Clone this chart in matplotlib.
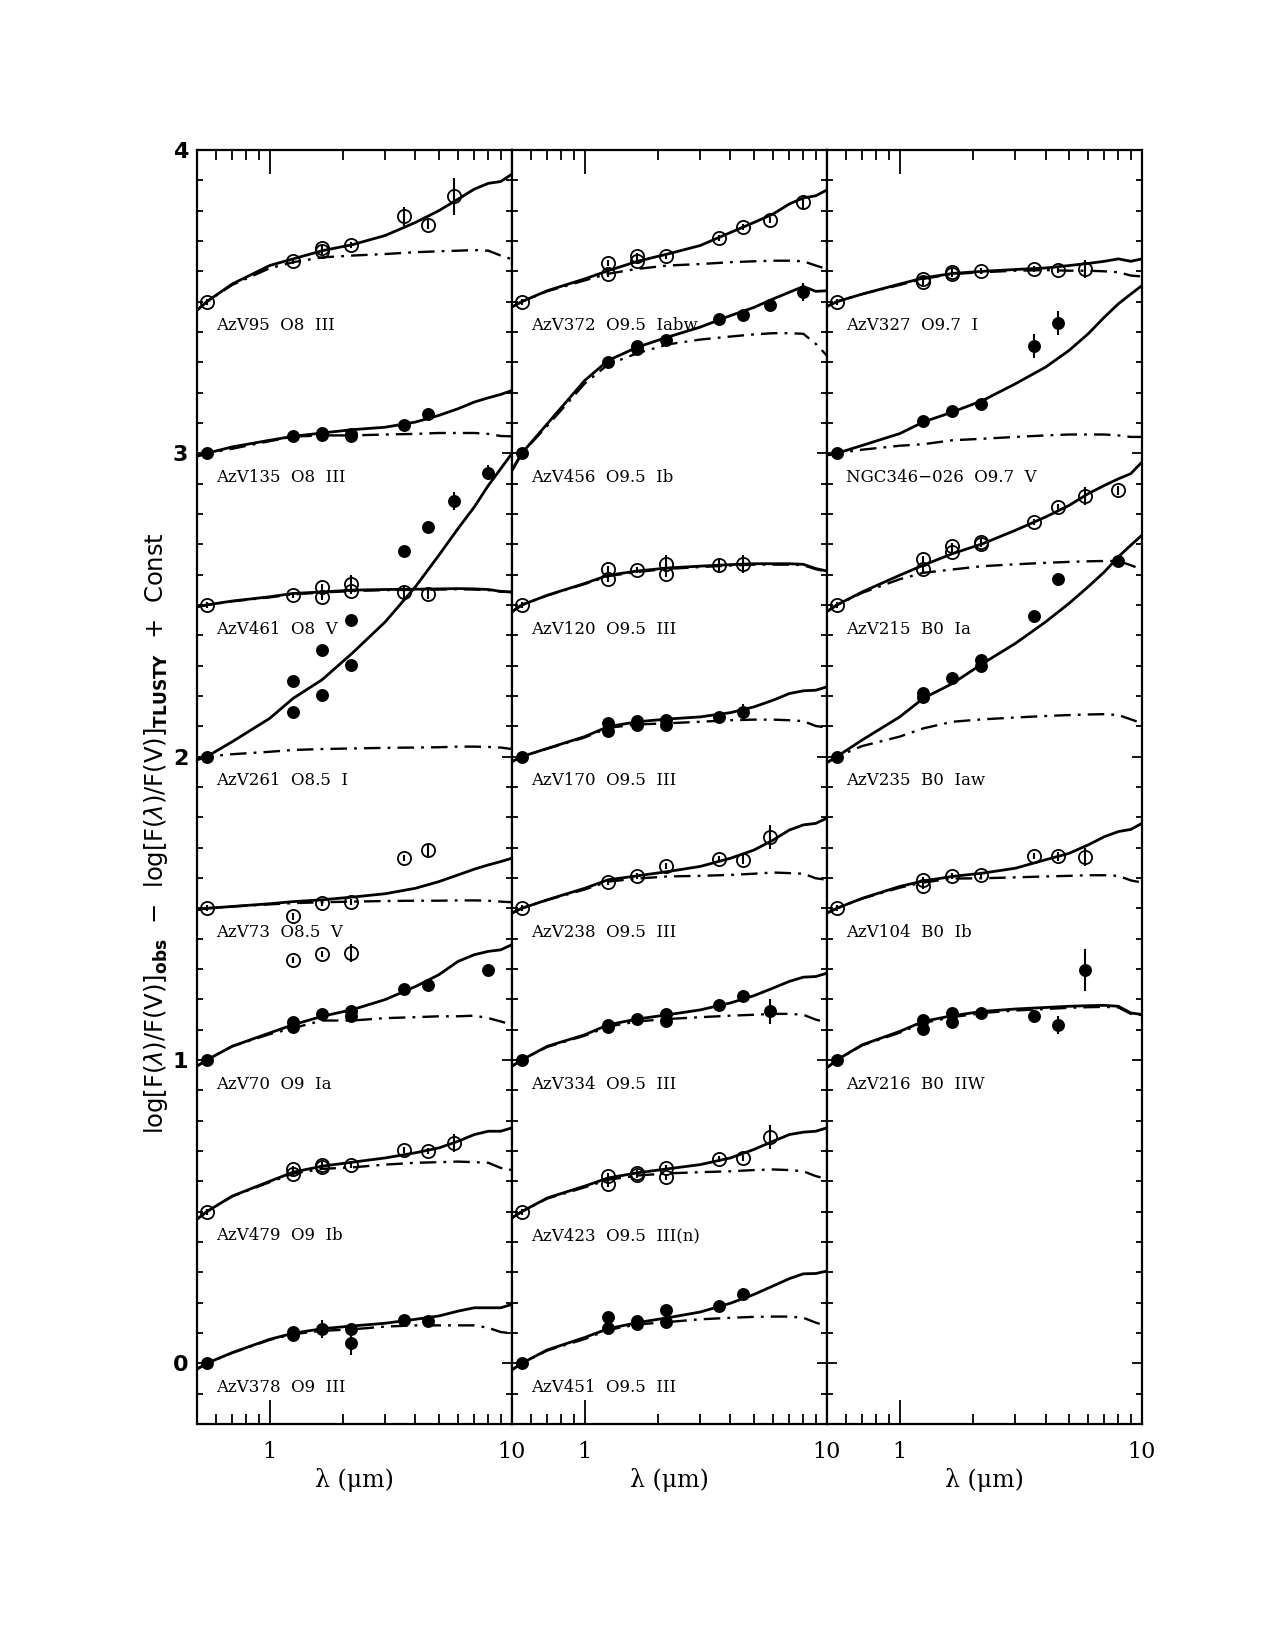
import matplotlib
matplotlib.use("Agg")
import matplotlib.pyplot as plt
import numpy as np
from matplotlib.ticker import LogLocator, FixedLocator, FixedFormatter, MultipleLocator, NullFormatter

# model grid (micron) for the TLUSTY curves
lam_grid = [0.5, 0.55, 0.7, 1.0, 1.25, 1.65, 2.2, 3.0, 4.0, 5.0, 6.0, 7.0, 8.0, 9.0, 10.0]

star_labels = [
    "AzV95  O8  III", "AzV135  O8  III", "AzV461  O8  V", "AzV261  O8.5  I",
    "AzV73  O8.5  V", "AzV70  O9  Ia", "AzV479  O9  Ib", "AzV378  O9  III",
    "AzV372  O9.5  Iabw", "AzV456  O9.5  Ib", "AzV120  O9.5  III", "AzV170  O9.5  III",
    "AzV238  O9.5  III", "AzV334  O9.5  III", "AzV423  O9.5  III(n)", "AzV451  O9.5  III",
    "AzV327  O9.7  I", "NGC346\u2212026  O9.7  V", "AzV215  B0  Ia", "AzV235  B0  Iaw",
    "AzV104  B0  Ib", "AzV216  B0  IIW",
]
panel_of = [0] * 8 + [1] * 8 + [2] * 6
offsets = [3.5, 3.0, 2.5, 2.0, 1.5, 1.0, 0.5, 0.0,
           3.5, 3.0, 2.5, 2.0, 1.5, 1.0, 0.5, 0.0,
           3.5, 3.0, 2.5, 2.0, 1.5, 1.0]
filled = [False, True, False, True, False, True, False, True,
          False, True, False, True, False, True, False, True,
          False, True, False, True, False, True]

# observed photometry: wavelength, value relative to V, error
pt_lam = [
    [0.55, 1.25, 1.65, 1.65, 2.17, 3.6, 4.5, 5.8],
    [0.55, 1.25, 1.65, 1.65, 2.17, 2.17, 3.6, 4.5],
    [0.55, 1.25, 1.65, 1.65, 2.17, 2.17, 3.6, 4.5],
    [0.55, 1.25, 1.25, 1.65, 1.65, 2.17, 2.17, 3.6, 4.5, 5.8, 8.0],
    [0.55, 1.25, 1.25, 1.65, 1.65, 2.17, 2.17, 3.6, 4.5],
    [0.55, 1.25, 1.25, 1.65, 2.17, 2.17, 3.6, 4.5, 8.0],
    [0.55, 1.25, 1.25, 1.65, 1.65, 2.17, 3.6, 4.5, 5.8],
    [0.55, 1.25, 1.25, 1.65, 2.17, 2.17, 3.6, 4.5],
    [0.55, 1.25, 1.25, 1.65, 1.65, 2.17, 3.6, 4.5, 5.8, 8.0],
    [0.55, 1.25, 1.65, 1.65, 2.17, 3.6, 4.5, 5.8, 8.0],
    [0.55, 1.25, 1.25, 1.65, 2.17, 2.17, 3.6, 4.5],
    [0.55, 1.25, 1.25, 1.65, 1.65, 2.17, 2.17, 3.6, 4.5],
    [0.55, 1.25, 1.65, 2.17, 3.6, 4.5, 5.8],
    [0.55, 1.25, 1.25, 1.65, 2.17, 2.17, 3.6, 4.5, 5.8],
    [0.55, 1.25, 1.25, 1.65, 1.65, 2.17, 2.17, 3.6, 4.5, 5.8],
    [0.55, 1.25, 1.25, 1.65, 1.65, 2.17, 2.17, 3.6, 4.5],
    [0.55, 1.25, 1.25, 1.65, 1.65, 2.17, 3.6, 4.5, 5.8],
    [0.55, 1.25, 1.65, 2.17, 3.6, 4.5],
    [0.55, 1.25, 1.25, 1.65, 1.65, 2.17, 2.17, 3.6, 4.5, 5.8, 8.0],
    [0.55, 1.25, 1.25, 1.65, 2.17, 2.17, 3.6, 4.5, 8.0],
    [0.55, 1.25, 1.25, 1.65, 2.17, 3.6, 4.5, 5.8],
    [0.55, 1.25, 1.25, 1.65, 1.65, 2.17, 3.6, 4.5, 5.8],
]
pt_val = [
    [0, 0.133, 0.177, 0.166, 0.188, 0.281, 0.253, 0.347],
    [0, 0.056, 0.067, 0.060, 0.064, 0.056, 0.092, 0.128],
    [0, 0.032, 0.060, 0.027, 0.068, 0.046, 0.043, 0.035],
    [0, 0.249, 0.148, 0.353, 0.202, 0.452, 0.301, 0.677, 0.757, 0.844, 0.936],
    [0, -0.027, -0.170, 0.017, -0.151, 0.022, -0.148, 0.165, 0.192],
    [0, 0.124, 0.109, 0.151, 0.160, 0.146, 0.234, 0.248, 0.297],
    [0, 0.139, 0.124, 0.154, 0.146, 0.153, 0.202, 0.201, 0.227],
    [0, 0.103, 0.092, 0.114, 0.114, 0.066, 0.142, 0.139],
    [0, 0.126, 0.091, 0.152, 0.133, 0.152, 0.209, 0.247, 0.270, 0.327],
    [0, 0.300, 0.355, 0.345, 0.372, 0.443, 0.457, 0.490, 0.531],
    [0, 0.120, 0.087, 0.114, 0.136, 0.103, 0.133, 0.136],
    [0, 0.110, 0.085, 0.117, 0.104, 0.120, 0.104, 0.131, 0.148],
    [0, 0.088, 0.105, 0.138, 0.162, 0.160, 0.236],
    [0, 0.116, 0.109, 0.135, 0.152, 0.130, 0.180, 0.212, 0.160],
    [0, 0.117, 0.092, 0.128, 0.122, 0.144, 0.114, 0.172, 0.177, 0.245],
    [0, 0.153, 0.117, 0.139, 0.129, 0.176, 0.136, 0.189, 0.227],
    [0, 0.075, 0.064, 0.097, 0.091, 0.102, 0.108, 0.104, 0.108],
    [0, 0.106, 0.138, 0.163, 0.353, 0.429],
    [0, 0.153, 0.120, 0.194, 0.175, 0.208, 0.202, 0.274, 0.323, 0.358, 0.378],
    [0, 0.210, 0.197, 0.258, 0.318, 0.298, 0.463, 0.584, 0.645],
    [0, 0.094, 0.072, 0.105, 0.110, 0.171, 0.171, 0.168],
    [0, 0.133, 0.102, 0.155, 0.124, 0.155, 0.144, 0.116, 0.297],
]
pt_err = [
    [0.01, 0.01, 0.01, 0.01, 0.01, 0.03, 0.015, 0.06],
    [0.01, 0.01, 0.01, 0.01, 0.015, 0.01, 0.01, 0.02],
    [0.01, 0.01, 0.01, 0.01, 0.03, 0.01, 0.02, 0.015],
    [0.01, 0.01, 0.01, 0.01, 0.01, 0.01, 0.01, 0.01, 0.02, 0.03, 0.025],
    [0.01, 0.01, 0.01, 0.01, 0.01, 0.01, 0.03, 0.01, 0.02],
    [0.01, 0.01, 0.01, 0.01, 0.01, 0.01, 0.01, 0.02, 0.02],
    [0.01, 0.01, 0.01, 0.01, 0.01, 0.01, 0.01, 0.01, 0.03],
    [0.01, 0.01, 0.01, 0.03, 0.01, 0.04, 0.01, 0.01],
    [0.01, 0.01, 0.01, 0.01, 0.01, 0.01, 0.01, 0.01, 0.01, 0.025],
    [0.01, 0.01, 0.01, 0.01, 0.01, 0.015, 0.01, 0.015, 0.03],
    [0.01, 0.01, 0.01, 0.01, 0.03, 0.01, 0.02, 0.03],
    [0.01, 0.01, 0.01, 0.01, 0.01, 0.01, 0.01, 0.01, 0.025],
    [0.01, 0.01, 0.01, 0.01, 0.01, 0.015, 0.04],
    [0.01, 0.01, 0.01, 0.01, 0.01, 0.01, 0.02, 0.02, 0.04],
    [0.01, 0.01, 0.01, 0.01, 0.01, 0.01, 0.01, 0.01, 0.01, 0.04],
    [0.01, 0.01, 0.01, 0.01, 0.01, 0.01, 0.01, 0.02, 0.02],
    [0.01, 0.01, 0.01, 0.01, 0.01, 0.01, 0.01, 0.01, 0.03],
    [0.01, 0.01, 0.01, 0.01, 0.04, 0.04],
    [0.01, 0.01, 0.01, 0.01, 0.01, 0.01, 0.01, 0.01, 0.01, 0.03, 0.015],
    [0.01, 0.01, 0.01, 0.01, 0.01, 0.01, 0.01, 0.02, 0.01],
    [0.01, 0.01, 0.01, 0.01, 0.01, 0.01, 0.015, 0.03],
    [0.01, 0.01, 0.01, 0.01, 0.01, 0.015, 0.02, 0.03, 0.07],
]

# TLUSTY + dust model (solid) and photosphere only (dash-dot), relative to V
model_full = [
    [-0.029, 0, 0.058, 0.119, 0.141, 0.168, 0.188, 0.218, 0.261, 0.300, 0.338, 0.371, 0.390, 0.396, 0.420],
    [-0.010, 0, 0.021, 0.043, 0.056, 0.067, 0.078, 0.086, 0.103, 0.125, 0.147, 0.169, 0.183, 0.194, 0.207],
    [-0.006, 0, 0.013, 0.027, 0.038, 0.043, 0.049, 0.051, 0.052, 0.053, 0.054, 0.053, 0.051, 0.045, 0.043],
    [-0.011, 0, 0.049, 0.126, 0.192, 0.254, 0.342, 0.444, 0.560, 0.664, 0.752, 0.823, 0.894, 0.949, 0.999],
    [-0.005, 0, 0.006, 0.015, 0.022, 0.028, 0.037, 0.048, 0.066, 0.088, 0.110, 0.129, 0.143, 0.154, 0.165],
    [-0.021, 0, 0.045, 0.089, 0.116, 0.144, 0.166, 0.199, 0.242, 0.281, 0.325, 0.347, 0.358, 0.363, 0.380],
    [-0.026, 0, 0.051, 0.100, 0.130, 0.150, 0.163, 0.177, 0.194, 0.210, 0.232, 0.254, 0.265, 0.265, 0.276],
    [-0.020, 0, 0.035, 0.079, 0.099, 0.114, 0.123, 0.132, 0.145, 0.156, 0.172, 0.183, 0.183, 0.183, 0.194],
    [-0.018, 0, 0.036, 0.075, 0.102, 0.133, 0.157, 0.185, 0.228, 0.261, 0.289, 0.322, 0.342, 0.349, 0.368],
    [-0.056, 0, 0.097, 0.240, 0.306, 0.350, 0.383, 0.416, 0.454, 0.481, 0.509, 0.531, 0.550, 0.534, 0.536],
    [-0.023, 0, 0.032, 0.071, 0.098, 0.112, 0.122, 0.128, 0.133, 0.136, 0.136, 0.136, 0.134, 0.120, 0.112],
    [-0.017, 0, 0.027, 0.066, 0.099, 0.115, 0.124, 0.131, 0.145, 0.164, 0.186, 0.208, 0.217, 0.219, 0.230],
    [-0.016, 0, 0.028, 0.066, 0.094, 0.107, 0.121, 0.138, 0.165, 0.192, 0.225, 0.258, 0.275, 0.280, 0.297],
    [-0.021, 0, 0.045, 0.083, 0.116, 0.135, 0.149, 0.165, 0.188, 0.212, 0.237, 0.259, 0.273, 0.275, 0.286],
    [-0.021, 0, 0.045, 0.084, 0.111, 0.128, 0.141, 0.155, 0.177, 0.205, 0.232, 0.254, 0.262, 0.265, 0.276],
    [-0.022, 0, 0.044, 0.085, 0.114, 0.134, 0.150, 0.169, 0.198, 0.227, 0.255, 0.279, 0.295, 0.296, 0.304],
    [-0.016, 0, 0.025, 0.058, 0.078, 0.093, 0.100, 0.106, 0.111, 0.119, 0.126, 0.133, 0.141, 0.133, 0.141],
    [-0.006, 0, 0.026, 0.065, 0.103, 0.136, 0.174, 0.229, 0.284, 0.339, 0.394, 0.449, 0.493, 0.525, 0.553],
    [-0.022, 0, 0.043, 0.098, 0.131, 0.169, 0.202, 0.246, 0.290, 0.328, 0.367, 0.394, 0.416, 0.433, 0.471],
    [-0.020, 0, 0.055, 0.131, 0.192, 0.241, 0.307, 0.373, 0.444, 0.505, 0.560, 0.609, 0.659, 0.697, 0.730],
    [-0.016, 0, 0.033, 0.072, 0.090, 0.105, 0.116, 0.132, 0.160, 0.181, 0.209, 0.236, 0.253, 0.260, 0.280],
    [-0.026, 0, 0.050, 0.094, 0.127, 0.146, 0.160, 0.168, 0.173, 0.177, 0.179, 0.180, 0.177, 0.155, 0.150],
]
model_phot = [
    [-0.030, 0, 0.055, 0.110, 0.130, 0.146, 0.152, 0.157, 0.163, 0.166, 0.168, 0.170, 0.168, 0.152, 0.140],
    [-0.010, 0, 0.015, 0.040, 0.055, 0.059, 0.059, 0.062, 0.064, 0.067, 0.067, 0.067, 0.064, 0.057, 0.056],
    [-0.006, 0, 0.012, 0.025, 0.035, 0.041, 0.046, 0.049, 0.050, 0.051, 0.052, 0.051, 0.049, 0.044, 0.042],
    [-0.005, 0, 0.008, 0.016, 0.022, 0.025, 0.027, 0.029, 0.030, 0.031, 0.033, 0.033, 0.032, 0.030, 0.025],
    [-0.005, 0, 0.006, 0.013, 0.017, 0.020, 0.022, 0.024, 0.025, 0.025, 0.026, 0.026, 0.025, 0.022, 0.020],
    [-0.021, 0, 0.045, 0.085, 0.105, 0.130, 0.130, 0.138, 0.141, 0.144, 0.144, 0.146, 0.138, 0.127, 0.116],
    [-0.026, 0, 0.050, 0.097, 0.125, 0.141, 0.146, 0.155, 0.161, 0.163, 0.165, 0.163, 0.161, 0.144, 0.137],
    [-0.020, 0, 0.034, 0.077, 0.096, 0.107, 0.112, 0.121, 0.125, 0.125, 0.125, 0.125, 0.117, 0.103, 0.099],
    [-0.018, 0, 0.034, 0.070, 0.092, 0.108, 0.119, 0.124, 0.130, 0.133, 0.135, 0.135, 0.133, 0.119, 0.108],
    [-0.060, 0, 0.090, 0.230, 0.293, 0.330, 0.359, 0.375, 0.385, 0.392, 0.396, 0.396, 0.394, 0.361, 0.322],
    [-0.023, 0, 0.031, 0.069, 0.095, 0.109, 0.119, 0.125, 0.130, 0.133, 0.133, 0.133, 0.131, 0.118, 0.110],
    [-0.017, 0, 0.026, 0.063, 0.095, 0.106, 0.110, 0.115, 0.120, 0.122, 0.122, 0.120, 0.117, 0.101, 0.096],
    [-0.016, 0, 0.027, 0.062, 0.088, 0.098, 0.105, 0.107, 0.110, 0.114, 0.118, 0.116, 0.114, 0.099, 0.094],
    [-0.021, 0, 0.043, 0.080, 0.110, 0.127, 0.135, 0.141, 0.146, 0.149, 0.152, 0.152, 0.149, 0.133, 0.124],
    [-0.021, 0, 0.043, 0.080, 0.105, 0.119, 0.126, 0.130, 0.133, 0.137, 0.139, 0.137, 0.133, 0.117, 0.108],
    [-0.022, 0, 0.042, 0.080, 0.110, 0.128, 0.136, 0.145, 0.150, 0.153, 0.154, 0.154, 0.150, 0.134, 0.123],
    [-0.016, 0, 0.025, 0.055, 0.075, 0.091, 0.097, 0.102, 0.104, 0.102, 0.102, 0.100, 0.097, 0.086, 0.083],
    [-0.006, 0, 0.012, 0.025, 0.030, 0.043, 0.048, 0.054, 0.059, 0.062, 0.062, 0.062, 0.059, 0.054, 0.054],
    [-0.022, 0, 0.040, 0.085, 0.106, 0.117, 0.128, 0.134, 0.139, 0.142, 0.144, 0.145, 0.145, 0.131, 0.117],
    [-0.020, 0, 0.035, 0.066, 0.093, 0.115, 0.123, 0.129, 0.134, 0.137, 0.139, 0.140, 0.137, 0.123, 0.110],
    [-0.016, 0, 0.032, 0.068, 0.085, 0.098, 0.099, 0.102, 0.105, 0.107, 0.109, 0.109, 0.107, 0.092, 0.085],
    [-0.026, 0, 0.048, 0.090, 0.122, 0.141, 0.155, 0.163, 0.168, 0.172, 0.174, 0.175, 0.173, 0.152, 0.148],
]

serif = "DejaVu Serif"
fig = plt.figure(figsize=(12.75, 16.5), dpi=100)

x0, w = 0.1543, 0.2471
bot, h = 0.137, 0.7721
axes = []
for p in range(3):
    ax = fig.add_axes([x0 + p * w, bot, w, h])
    ax.set_xscale("log")
    ax.set_xlim(0.5, 10)
    ax.set_ylim(-0.2, 4.0)
    for s in ax.spines.values():
        s.set_linewidth(1.6)
    ax.xaxis.set_major_locator(FixedLocator([1, 10]))
    ax.xaxis.set_major_formatter(FixedFormatter(["1", "10"]))
    ax.xaxis.set_minor_locator(LogLocator(base=10, subs=np.arange(2, 10)))
    ax.xaxis.set_minor_formatter(NullFormatter())
    ax.yaxis.set_major_locator(MultipleLocator(1))
    ax.yaxis.set_minor_locator(MultipleLocator(0.1))
    ax.tick_params(which="both", direction="in", top=True, right=True, width=1.3)
    ax.tick_params(axis="x", which="major", length=17, pad=12, labelsize=16)
    ax.tick_params(axis="x", which="minor", length=7)
    ax.tick_params(axis="y", which="major", length=7, labelsize=16, pad=6)
    ax.tick_params(axis="y", which="minor", length=4)
    for t in ax.get_xticklabels():
        t.set_fontfamily(serif)
    for t in ax.get_yticklabels():
        t.set_fontweight("bold")
    if p > 0:
        ax.set_yticklabels([])
    ax.set_xlabel("\u03bb (\u03bcm)", fontsize=17, fontfamily=serif, labelpad=4)
    axes.append(ax)

for i in range(len(star_labels)):
    ax = axes[panel_of[i]]
    off = offsets[i]
    ax.plot(lam_grid, off + np.array(model_full[i]), color="k", lw=2.0, zorder=3)
    ax.plot(lam_grid, off + np.array(model_phot[i]), color="k", lw=1.7,
            ls=(0, (7, 3, 1.2, 3)), zorder=2)
    ax.errorbar(pt_lam[i], off + np.array(pt_val[i]), yerr=pt_err[i], fmt="o",
                ms=8 if filled[i] else 9.5, mfc="k" if filled[i] else "none",
                mec="k", mew=1.3, ecolor="k", elinewidth=1.5, capsize=0, zorder=4)
    ax.text(0.6, off - 0.08, star_labels[i], fontsize=12, fontfamily=serif,
            ha="left", va="center")

fig.text(0.122, 0.495,
         r"log[F($\lambda$)/F(V)]$_{\mathbf{obs}}$  $-$  log[F($\lambda$)/F(V)]$_{\mathbf{TLUSTY}}$  +  Const",
         rotation=90, ha="center", va="center", fontsize=17.5)

fig.savefig("out.png", dpi=100)
